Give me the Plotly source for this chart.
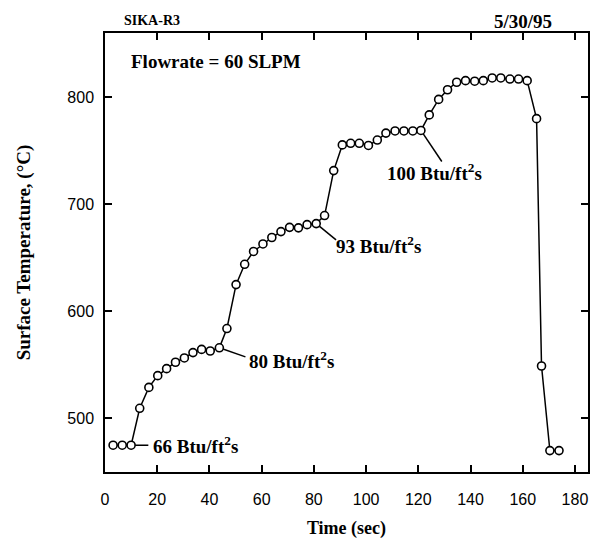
import plotly.graph_objects as go

# Data
time_s = [3.1, 6.6, 10.0, 13.3, 16.8, 20.2, 23.6, 27.0, 30.4, 33.7, 37.0, 40.3, 43.8,
          46.7, 50.2, 53.5, 56.9, 60.5, 63.9, 67.4, 70.7, 74.1, 77.4, 80.9, 84.1, 87.6,
          90.9, 94.1, 97.4, 100.9, 104.3, 107.6, 111.1, 114.5, 117.9, 121.0, 124.2,
          127.8, 131.2, 134.7, 138.1, 141.6, 144.9, 148.3, 151.6, 155.1, 158.4, 161.7,
          165.3, 167.2, 170.4, 173.9]
temp_c = [475, 475, 475, 509.5, 529, 540, 546.5, 552.5, 556.5, 561.5, 564.5, 563, 566,
          584, 625, 644, 656, 663, 669, 674.5, 678.5, 678, 681, 682, 689.5, 731.5,
          755.5, 757, 757, 755, 760, 766.5, 768.5, 768.5, 768.5, 769, 783.5, 798, 807,
          814, 815.5, 815, 815.5, 818, 818, 817, 817, 815.5, 780, 549, 470, 470]

# Heat-flux labels: text, index of the data point they refer to,
# leader-line end (t, T) and text anchor (t, T)
flux_labels = ["66 Btu/ft<sup>2</sup>s", "80 Btu/ft<sup>2</sup>s",
               "93 Btu/ft<sup>2</sup>s", "100 Btu/ft<sup>2</sup>s"]
flux_point_idx = [2, 12, 23, 35]
flux_line_end = [(16.6, 475), (53.8, 557.5), (88.5, 666.8), (129.0, 740.0)]
flux_text_pos = [(17.6, 475), (54.3, 555), (87.6, 662), (107.3, 730.6)]

x_ticks = [0, 20, 40, 60, 80, 100, 120, 140, 160, 180]
y_ticks = [500, 600, 700, 800]

serif = "Liberation Serif"
sans = "Liberation Sans"

fig = go.Figure()

for txt, idx, (lx, ly), (tx, ty) in zip(flux_labels, flux_point_idx, flux_line_end, flux_text_pos):
    fig.add_trace(go.Scatter(x=[time_s[idx], lx], y=[temp_c[idx], ly], mode="lines",
                             line=dict(color="black", width=1.5), showlegend=False,
                             hoverinfo="skip"))
    fig.add_annotation(x=tx, y=ty, text="<b>" + txt + "</b>", showarrow=False,
                       xanchor="left", yanchor="middle",
                       font=dict(family=serif, size=19, color="black"))

fig.add_trace(go.Scatter(
    x=time_s, y=temp_c, mode="lines+markers",
    line=dict(color="black", width=1.5),
    marker=dict(symbol="circle", size=8, color="white", line=dict(width=1.6, color="black")),
    showlegend=False, hoverinfo="skip"))

fig.add_annotation(x=0.05, y=0.935, xref="paper", yref="paper",
                   text="<b>Flowrate = 60 SLPM</b>", showarrow=False,
                   xanchor="left", yanchor="middle",
                   font=dict(family=serif, size=19, color="black"))
fig.add_annotation(x=0.035, y=1.0, xref="paper", yref="paper", yshift=13,
                   text="<b>SIKA-R3</b>", showarrow=False, xanchor="left", yanchor="middle",
                   font=dict(family=serif, size=14, color="black"))
fig.add_annotation(x=0.93, y=1.0, xref="paper", yref="paper", yshift=12,
                   text="<b>5/30/95</b>", showarrow=False, xanchor="right", yanchor="middle",
                   font=dict(family=serif, size=19, color="black"))

axis_common = dict(showline=True, linecolor="black", linewidth=1.5, mirror="ticks",
                   ticks="inside", ticklen=7, tickwidth=1.5, tickcolor="black",
                   showgrid=False, zeroline=False,
                   tickfont=dict(family=sans, size=16, color="black"))

fig.update_xaxes(range=[0, 185], tickvals=x_ticks, ticktext=[str(v) for v in x_ticks],
                 ticklabelstandoff=12,
                 title=dict(text="<b>Time (sec)</b>", standoff=14,
                            font=dict(family=serif, size=18, color="black")),
                 **axis_common)
fig.update_yaxes(range=[450, 860], tickvals=y_ticks, ticktext=[str(v) for v in y_ticks],
                 ticklabelstandoff=6,
                 title=dict(text="<b>Surface Temperature, (°C)</b>", standoff=32,
                            font=dict(family=serif, size=19, color="black")),
                 **axis_common)

fig.update_layout(width=604, height=547, margin=dict(l=105, r=16, t=33, b=75),
                  plot_bgcolor="white", paper_bgcolor="white")

fig.write_html("out.html")
